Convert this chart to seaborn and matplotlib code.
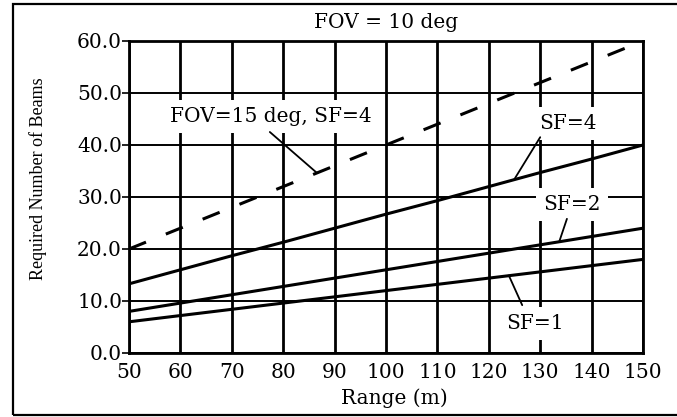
import matplotlib
matplotlib.use("Agg")
import matplotlib.pyplot as plt
import seaborn as sns
import pandas as pd
from matplotlib.patches import Rectangle

# ---- data ----
range_m = [50, 60, 70, 80, 90, 100, 110, 120, 130, 140, 150]
fov15_sf4 = [20.0, 24.0, 28.0, 32.0, 36.0, 40.0, 44.0, 48.0, 52.0, 56.0, 60.0]
sf4 = [13.3, 16.0, 18.7, 21.3, 24.0, 26.7, 29.3, 32.0, 34.7, 37.3, 40.0]
sf2 = [8.0, 9.6, 11.2, 12.8, 14.4, 16.0, 17.6, 19.2, 20.8, 22.4, 24.0]
sf1 = [6.0, 7.2, 8.4, 9.6, 10.8, 12.0, 13.2, 14.4, 15.6, 16.8, 18.0]
x_ticks = [50, 60, 70, 80, 90, 100, 110, 120, 130, 140, 150]
y_ticks = [0, 10, 20, 30, 40, 50, 60]
y_tick_labels = ["0.0", "10.0", "20.0", "30.0", "40.0", "50.0", "60.0"]

sns.set_theme(style="white")
plt.rcParams["font.family"] = ["DejaVu Serif"]

W, H = 677, 417
fig = plt.figure(figsize=(W / 100, H / 100), dpi=100)
fig.patch.set_facecolor("white")

def px(x, y):
    return x / W, 1 - y / H

ax = fig.add_axes([129 / W, 1 - 353 / H, (643 - 129) / W, (353 - 41) / H])
ax.set_facecolor("white")

df = pd.DataFrame({"range": range_m, "fov15": fov15_sf4, "sf4": sf4, "sf2": sf2, "sf1": sf1})

lw = 2.2
sns.lineplot(data=df, x="range", y="fov15", ax=ax, color="black", lw=lw,
             dashes=False, zorder=3).lines[-1].set_dashes((6, 7))
for col in ["sf4", "sf2", "sf1"]:
    sns.lineplot(data=df, x="range", y=col, ax=ax, color="black", lw=lw, zorder=3)

ax.set_xlim(50, 150)
ax.set_ylim(0, 60)
ax.set_xticks(x_ticks)
ax.set_yticks(y_ticks)
ax.set_yticklabels(y_tick_labels)
ax.set_xlabel("")
ax.set_ylabel("")

ax.set_axisbelow(True)
ax.xaxis.grid(True, color="black", lw=2.0)
ax.yaxis.grid(True, color="black", lw=1.4)
for s in ax.spines.values():
    s.set_color("black")
    s.set_linewidth(2.0)

fs = 14.5
ax.tick_params(axis="x", length=0, pad=7, labelsize=fs, colors="black")
ax.tick_params(axis="y", length=5, width=1.2, pad=0, labelsize=fs, colors="black", left=True)

# labels with leader lines
box = dict(boxstyle="square,pad=0.35", fc="white", ec="none")
labels = [
    ("FOV=15 deg, SF=4", (77.6, 45.5), (77.4, 42.5), (86.6, 34.6)),
    ("SF=4", (135.4, 44.2), (130.0, 41.5), (124.9, 33.3)),
    ("SF=2", (136.2, 28.5), (135.2, 25.8), (133.7, 21.4)),
    ("SF=1", (129.0, 5.6), (126.5, 9.2), (123.9, 14.9)),
]
for txt, pos, start, end in labels:
    ax.annotate("", xy=end, xytext=start,
                arrowprops=dict(arrowstyle="-", lw=1.3, color="black", shrinkA=0, shrinkB=0),
                zorder=4)
    ax.text(pos[0], pos[1], txt, ha="center", va="center", fontsize=fs,
            color="black", bbox=box, zorder=2.5)

fig.text(*px(386, 22), "FOV = 10 deg", ha="center", va="center", fontsize=fs, color="black")
fig.text(*px(394, 398), "Range (m)", ha="center", va="center", fontsize=fs, color="black")
fig.text(*px(38, 179), "Required Number of Beams", ha="center", va="center",
         rotation=90, fontsize=13, color="black", family=["Liberation Serif"])

# outer frame
fig.add_artist(Rectangle((13 / W, 1 - 415 / H), (690 - 13) / W, (415 - 4) / H,
                         transform=fig.transFigure, fill=False, ec="black", lw=1.6))

fig.savefig("out.png", dpi=100, facecolor="white")
